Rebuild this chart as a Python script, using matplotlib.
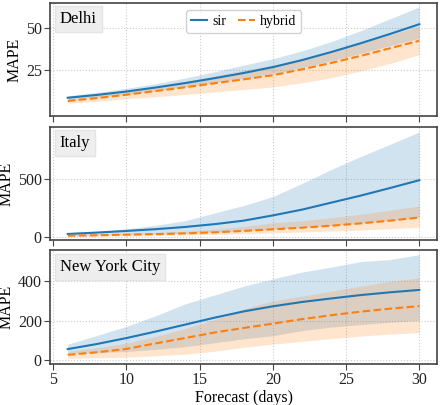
import numpy as np
import matplotlib as mpl
mpl.use('Agg')
import matplotlib.pyplot as plt

# forecast horizon (days)
days = [6, 8, 10, 12, 14, 16, 18, 20, 22, 24, 26, 28, 30]

# Delhi
delhi_sir = [8.6, 10.3, 12.3, 14.7, 17.3, 20.2, 23.3, 26.8, 31.0, 35.8, 41.0, 46.5, 52.3]
delhi_sir_lo = [7.5, 9.0, 10.8, 12.8, 15.0, 17.5, 20.0, 23.0, 26.5, 30.5, 35.0, 39.5, 44.0]
delhi_sir_hi = [9.8, 11.8, 14.2, 17.0, 20.3, 24.0, 28.0, 31.8, 36.5, 42.0, 48.5, 55.5, 62.6]
delhi_hyb = [6.7, 8.4, 10.4, 12.6, 14.8, 17.2, 19.5, 22.0, 25.5, 29.3, 33.5, 38.0, 42.5]
delhi_hyb_lo = [5.4, 6.5, 8.0, 9.2, 10.5, 12.0, 13.5, 15.0, 17.5, 20.5, 24.5, 29.0, 34.2]
delhi_hyb_hi = [8.0, 10.0, 12.5, 15.0, 18.2, 21.5, 25.0, 28.0, 31.5, 36.5, 41.0, 46.0, 51.0]

# Italy
italy_sir = [26, 38, 52, 67, 86, 110, 140, 185, 235, 295, 355, 420, 487]
italy_sir_lo = [12, 16, 21, 26, 32, 41, 53, 67, 81, 98, 118, 141, 168]
italy_sir_hi = [32, 48, 70, 100, 140, 205, 270, 346, 460, 580, 690, 795, 900]
italy_hyb = [11, 15, 20, 25, 31, 40, 52, 66, 80, 97, 117, 140, 167]
italy_hyb_lo = [5, 7, 10, 13, 17, 22, 28, 35, 42, 51, 60, 71, 84]
italy_hyb_hi = [15, 21, 30, 38, 50, 66, 90, 121, 140, 165, 195, 230, 266]

# New York City
nyc_sir = [56, 82, 112, 145, 180, 215, 247, 273, 295, 313, 330, 344, 356]
nyc_sir_lo = [35, 38, 44, 55, 68, 88, 108, 124, 150, 168, 180, 192, 201]
nyc_sir_hi = [81, 125, 171, 225, 285, 330, 375, 412, 447, 472, 500, 510, 535]
nyc_hyb = [27, 40, 57, 85, 112, 140, 163, 185, 208, 228, 246, 261, 274]
nyc_hyb_lo = [10, 12, 15, 22, 30, 45, 65, 81, 95, 110, 122, 132, 140]
nyc_hyb_hi = [45, 62, 86, 120, 160, 205, 260, 300, 325, 350, 375, 400, 417]

regions = ['Delhi', 'Italy', 'New York City']
ylims = [(-2.5, 65), (-28, 946), (-20, 556)]
yticks = [[25, 50], [0, 500], [0, 200, 400]]

plt.rcParams['font.family'] = ['Liberation Serif', 'DejaVu Serif']
plt.rcParams['font.size'] = 11.5
plt.rcParams['axes.edgecolor'] = '#444444'
plt.rcParams['axes.linewidth'] = 1.2
plt.rcParams['xtick.color'] = '#444444'
plt.rcParams['ytick.color'] = '#444444'
plt.rcParams['xtick.labelcolor'] = '#222222'
plt.rcParams['ytick.labelcolor'] = '#222222'

fig, axes = plt.subplots(3, 1, figsize=(4.4, 4.05), dpi=100, sharex=True)
fig.subplots_adjust(left=0.114, right=0.993, top=0.993, bottom=0.101, hspace=0.09)

data = [
    (delhi_sir, delhi_sir_lo, delhi_sir_hi, delhi_hyb, delhi_hyb_lo, delhi_hyb_hi),
    (italy_sir, italy_sir_lo, italy_sir_hi, italy_hyb, italy_hyb_lo, italy_hyb_hi),
    (nyc_sir, nyc_sir_lo, nyc_sir_hi, nyc_hyb, nyc_hyb_lo, nyc_hyb_hi),
]

for ax, name, d, yl, yt in zip(axes, regions, data, ylims, yticks):
    s, slo, shi, h, hlo, hhi = d
    ax.fill_between(days, slo, shi, color='C0', alpha=0.2, linewidth=0)
    ax.fill_between(days, hlo, hhi, color='C1', alpha=0.2, linewidth=0)
    ax.plot(days, s, color='C0', lw=1.5, label='sir')
    ax.plot(days, h, color='C1', lw=1.5, ls='--', label='hybrid')
    ax.set_ylim(*yl)
    ax.set_yticks(yt)
    ax.set_xlim(4.8, 31.2)
    ax.set_ylabel('MAPE', labelpad=2)
    ax.tick_params(length=4, pad=2)
    ax.grid(True, color='#cccccc', linestyle=':', linewidth=0.8)
    ax.set_axisbelow(True)
    ax.text(0.025, 0.925, name, transform=ax.transAxes, va='top', ha='left', fontsize=12,
            bbox=dict(boxstyle='square,pad=0.3', facecolor='#eeeeee', edgecolor='#e4e4e4'))

axes[0].legend(loc='upper center', ncol=2, fontsize=10, handlelength=1.2, columnspacing=0.8,
               handletextpad=0.4, borderpad=0.35, framealpha=0.9)
axes[-1].set_xticks([5, 10, 15, 20, 25, 30])
axes[-1].set_xlabel('Forecast (days)', labelpad=1)

plt.savefig('out.png', dpi=100)
